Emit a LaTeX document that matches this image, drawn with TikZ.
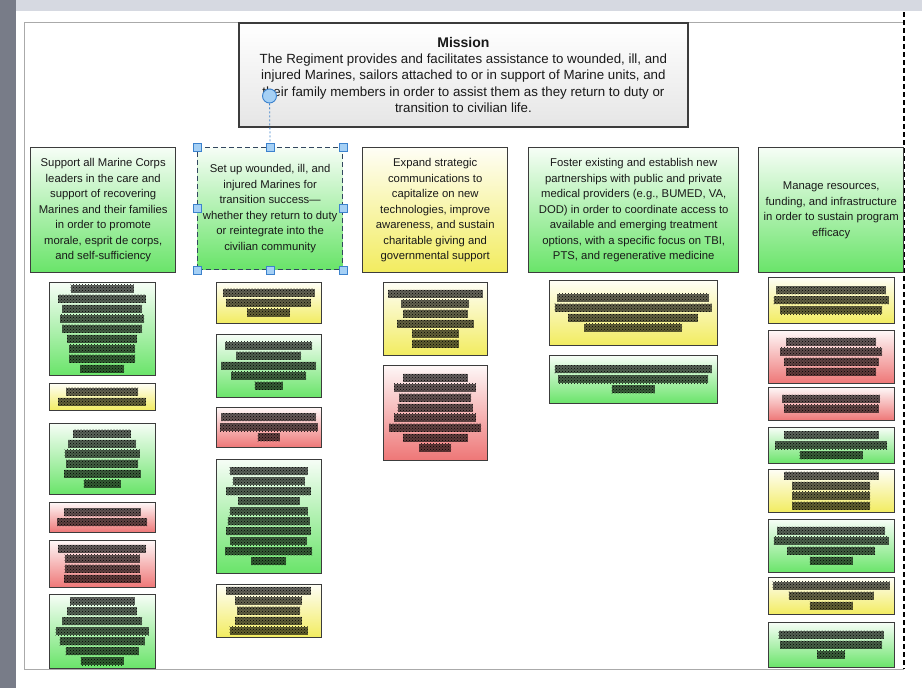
\documentclass[tikz,border=0pt]{standalone}
\usepackage{fontspec}
\setmainfont{Liberation Sans}
\usetikzlibrary{patterns}
\definecolor{gB}{RGB}{105,228,105}
\definecolor{yB}{RGB}{242,236,95}
\definecolor{rB}{RGB}{238,118,118}
\definecolor{boxline}{RGB}{60,60,60}
\definecolor{selblue}{RGB}{60,130,205}
\definecolor{handlefill}{RGB}{165,208,245}
\definecolor{selline}{RGB}{50,70,95}
\definecolor{topstrip}{RGB}{214,217,225}
\definecolor{leftstrip}{RGB}{120,124,136}
\definecolor{frameline}{RGB}{170,170,170}
\tikzset{
  mainbox/.style={draw=boxline, line width=1.4pt, align=center, anchor=north west,
    inner sep=2pt, text=black!90, font=\fontsize{11.3}{15.5}\selectfont},
  subboxst/.style={draw=boxline, line width=1.2pt, anchor=north west, inner sep=0pt},
  gsh/.style={top color=gB!6, bottom color=gB},
  ysh/.style={top color=yB!6, bottom color=yB},
  rsh/.style={top color=rB!6, bottom color=rB},
  handle/.style={draw=selblue, fill=handlefill, minimum size=8pt, inner sep=0pt, line width=0.8pt},
  redact/.style={preaction={fill=black, fill opacity=0.6}, pattern=crosshatch dots, pattern color=black}
}
\newcommand\subbox[7]{%
  \node[subboxst, #6, minimum width={#4-#2}, minimum height={#5-#3}] (#1) at (#2,#3) {};
  \foreach \w [count=\k] in {#7} {\xdef\nbars{\k}}
  \foreach \w [count=\k] in {#7} {
    \pgfmathsetmacro\yy{(#3+#5)/2 - (\nbars-1)*5 + (\k-1)*10}
    \fill[redact] ({(#2+#4)/2 - \w/2}, {\yy-4}) rectangle ++(\w,8);
  }
}
\begin{document}
\begin{tikzpicture}[x=1pt,y=-1pt]
\useasboundingbox (0,0) rectangle (922,688);
\fill[white] (0,0) rectangle (922,688);
\fill[topstrip] (0,0) rectangle (922,11);
\fill[leftstrip] (0,0) rectangle (16,688);
% page frame
\draw[frameline, line width=1pt] (24,22) -- (904,22);
\draw[frameline, line width=1pt] (24,22) -- (24,669) -- (904,669);
\draw[black, line width=1.2pt, dash pattern=on 5pt off 3pt] (904,12) -- (904,669);

% mission
\node[draw=boxline, line width=1.8pt, top color=white, bottom color=black!10,
  anchor=north west, minimum width=449, minimum height=104, align=center,
  text=black!90, font=\fontsize{13.3}{16.3}\selectfont] (mission) at (238,22)
  {{\bfseries\fontsize{14}{16.3}\selectfont Mission}\\
   The Regiment provides and facilitates assistance to wounded, ill, and\\
   injured Marines, sailors attached to or in support of Marine units, and\\
   their family members in order to assist them as they return to duty or\\
   transition to civilian life.};

% goal boxes
\node[mainbox, gsh, minimum width=145, minimum height=125] (g1) at (30,147)
  {Support all Marine Corps\\leaders in the care and\\support of recovering\\Marines and their families\\in order to promote\\morale, esprit de corps,\\and self-sufficiency};
\node[mainbox, gsh, draw=selline, dash pattern=on 5pt off 3pt, line width=1.2pt,
  minimum width=145, minimum height=122] (g2) at (197,147)
  {Set up wounded, ill, and\\injured Marines for\\transition success---\\whether they return to duty\\or reintegrate into the\\civilian community};
\node[mainbox, ysh, minimum width=145, minimum height=125] (g3) at (362,147)
  {Expand strategic\\communications to\\capitalize on new\\technologies, improve\\awareness, and sustain\\charitable giving and\\governmental support};
\node[mainbox, gsh, minimum width=210, minimum height=125] (g4) at (528,147)
  {Foster existing and establish new\\partnerships with public and private\\medical providers (e.g., BUMED, VA,\\DOD) in order to coordinate access to\\available and emerging treatment\\options, with a specific focus on TBI,\\PTS, and regenerative medicine};
\node[mainbox, gsh, minimum width=145, minimum height=125] (g5) at (758,147)
  {Manage resources,\\funding, and infrastructure\\in order to sustain program\\efficacy};

% selection handles
\node[circle, draw=selblue, fill=handlefill, minimum size=14pt, inner sep=0pt, line width=0.9pt] (rot) at (269.5,96) {};
\draw[selblue, line width=0.8pt, dash pattern=on 2pt off 2pt] (rot) -- (g2.north);
\node[handle] (h1) at (g2.north west) {};
\node[handle] (h2) at (g2.north) {};
\node[handle] (h3) at (g2.north east) {};
\node[handle] (h4) at (g2.west) {};
\node[handle] (h5) at (g2.east) {};
\node[handle] (h6) at (g2.south west) {};
\node[handle] (h7) at (g2.south) {};
\node[handle] (h8) at (g2.south east) {};

% column 1
\subbox{c1a}{49}{282}{155}{375}{gsh}{63,88,80,84,80,70,66,66,44}
\subbox{c1b}{49}{383}{155}{410}{ysh}{72,88}
\subbox{c1c}{49}{423}{155}{494}{gsh}{58,68,75,72,77,37}
\subbox{c1d}{49}{502}{155}{532}{rsh}{77,90}
\subbox{c1e}{49}{540}{155}{587}{rsh}{88,75,75,77}
\subbox{c1f}{49}{594}{155}{668}{gsh}{65,70,80,93,85,73,43}
% column 2
\subbox{c2a}{216}{282}{321}{323}{ysh}{92,85,43}
\subbox{c2b}{216}{334}{321}{397}{gsh}{87,65,95,75,28}
\subbox{c2c}{216}{407}{321}{447}{rsh}{95,98,22}
\subbox{c2d}{216}{459}{321}{573}{gsh}{78,72,85,62,78,82,85,77,87,35}
\subbox{c2e}{216}{584}{321}{637}{ysh}{85,67,63,67,78}
% column 3
\subbox{c3a}{383}{282}{487}{355}{ysh}{95,68,65,77,47,47}
\subbox{c3b}{383}{365}{487}{460}{rsh}{65,82,72,75,82,92,65,32}
% column 4
\subbox{c4a}{549}{280}{717}{345}{ysh}{152,157,130,98}
\subbox{c4b}{549}{355}{717}{403}{gsh}{157,150,43}
% column 5
\subbox{c5a}{768}{277}{894}{323}{ysh}{110,115,102}
\subbox{c5b}{768}{330}{894}{383}{rsh}{90,102,95,90}
\subbox{c5c}{768}{387}{894}{420}{rsh}{98,95}
\subbox{c5d}{768}{427}{894}{463}{gsh}{95,112,63}
\subbox{c5e}{768}{469}{894}{512}{ysh}{95,78,78,78}
\subbox{c5f}{768}{519}{894}{572}{gsh}{108,115,88,43}
\subbox{c5g}{768}{577}{894}{614}{ysh}{117,85,43}
\subbox{c5h}{768}{622}{894}{667}{gsh}{105,102,28}
\end{tikzpicture}
\end{document}
